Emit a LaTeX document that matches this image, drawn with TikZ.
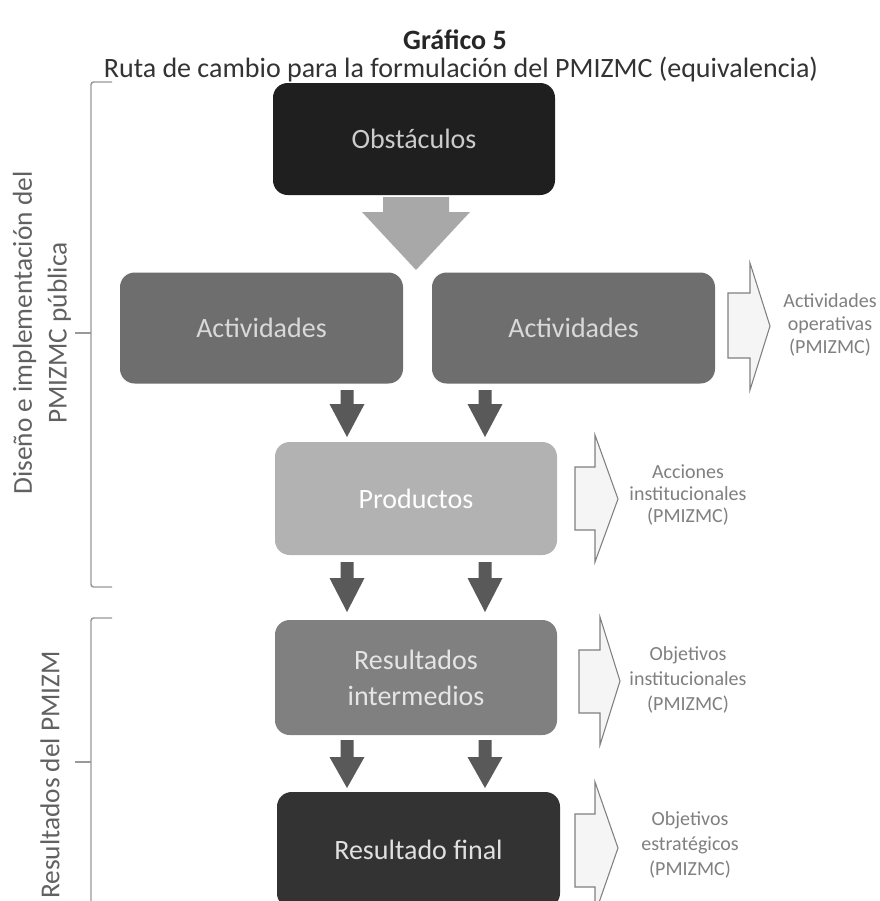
\documentclass[tikz,border=0pt]{standalone}
\usepackage{fontspec}
\setmainfont{Carlito}
\begin{document}
\begin{tikzpicture}[x=0.75pt,y=-0.75pt,
  box/.style={rectangle, rounded corners=11pt, inner sep=0pt, align=center, font=\fontsize{21}{25}\selectfont},
  side/.style={text=black!62, font=\fontsize{20.5}{26}\selectfont, align=center},
  note/.style={text=black!50, font=\fontsize{15}{17}\selectfont, align=center},
  brk/.style={draw=black!40, line width=1.1pt},
  hollow/.style={draw=black!50, fill=blue!3!black!4, line width=0.8pt, line join=miter},
  darr/.style={fill=black!65}
]
\useasboundingbox (0,0) rectangle (880,901);
\fill[white] (0,0) rectangle (880,901);

% titles
\node[font=\bfseries\fontsize{21}{25}\selectfont, text=black!85] (tit) at (455,40) {Gráfico 5};
\node[font=\fontsize{21}{24}\selectfont, text=black!80] (sub) at (461,70) {Ruta de cambio para la formulación del PMIZMC (equivalencia)};

% boxes
\node[box, fill=black!88, text=black!20, minimum width=282*0.75pt, minimum height=112*0.75pt] (obst) at (414,139) {Obstáculos};
\node[box, fill=black!57, text=black!15, minimum width=283*0.75pt, minimum height=111*0.75pt] (act1) at (261.5,328) {Actividades};
\node[box, fill=black!57, text=black!15, minimum width=283*0.75pt, minimum height=111*0.75pt] (act2) at (573.5,328) {Actividades};
\node[box, fill=black!30, text=white, minimum width=282*0.75pt, minimum height=113*0.75pt] (prod) at (416,498.5) {Productos};
\node[box, fill=black!50, text=black!10, minimum width=282*0.75pt, minimum height=115*0.75pt] (resint) at (416,677.5) {Resultados\\[2pt]intermedios};
\node[box, fill=black!80, text=black!12, minimum width=283*0.75pt, minimum height=116*0.75pt] (resfin) at (418.5,850) {Resultado final};

% big arrow from Obstaculos
\fill[black!34] (383,197) -- (449,197) -- (449,212) -- (470,212) -- (416,270) -- (362,212) -- (383,212) -- cycle;

% small dark arrows
\newcommand{\darrow}[4]{\fill[darr] ({#1-6.5},#2) -- ({#1+6.5},#2) -- ({#1+6.5},#3) -- ({#1+17.5},#3) -- (#1,#4) -- ({#1-17.5},#3) -- ({#1-6.5},#3) -- cycle;}
\darrow{347}{390}{404}{437}
\darrow{485}{390}{404}{437}
\darrow{347}{562}{578}{612}
\darrow{485}{562}{578}{612}
\darrow{347}{740}{757}{788}
\darrow{485}{740}{757}{788}

% hollow arrows
\newcommand{\harrow}[8]{\draw[hollow] (#1,#4) -- (#2,#4) -- (#2,#6) -- (#3,#8) -- (#2,#7) -- (#2,#5) -- (#1,#5) -- cycle;}
\harrow{728}{750}{770}{293}{358}{263}{390}{326}
\harrow{575}{595}{618}{467}{530}{435}{562}{499}
\harrow{579}{600}{620}{650}{713}{617}{745}{681}
\harrow{575}{595}{618}{814}{887}{782}{914}{848}

% notes
\node[note, font=\fontsize{15}{17}\selectfont] (n1) at (830,325) {Actividades\\operativas\\(PMIZMC)};
\node[note, font=\fontsize{15}{16.5}\selectfont] (n2) at (688,495) {Acciones\\institucionales\\(PMIZMC)};
\node[note, font=\fontsize{15}{18.5}\selectfont] (n3) at (688,680) {Objetivos\\institucionales\\(PMIZMC)};
\node[note, font=\fontsize{15}{18.5}\selectfont] (n4) at (690,845) {Objetivos\\estratégicos\\(PMIZMC)};

% brackets
\draw[brk, rounded corners=2pt] (112,82) -| (91,587) -- (112,587);
\draw[brk] (91,333) -- (75,333);
\draw[brk, rounded corners=2pt] (112,618) -| (91,910);
\draw[brk] (91,762) -- (75,762);

% side labels
\node[side, rotate=90] (s1) at (42,333) {Diseño e implementación del\\PMIZMC pública};
\node[side, rotate=90] (s2) at (50,775) {Resultados del PMIZM};
\end{tikzpicture}
\end{document}
